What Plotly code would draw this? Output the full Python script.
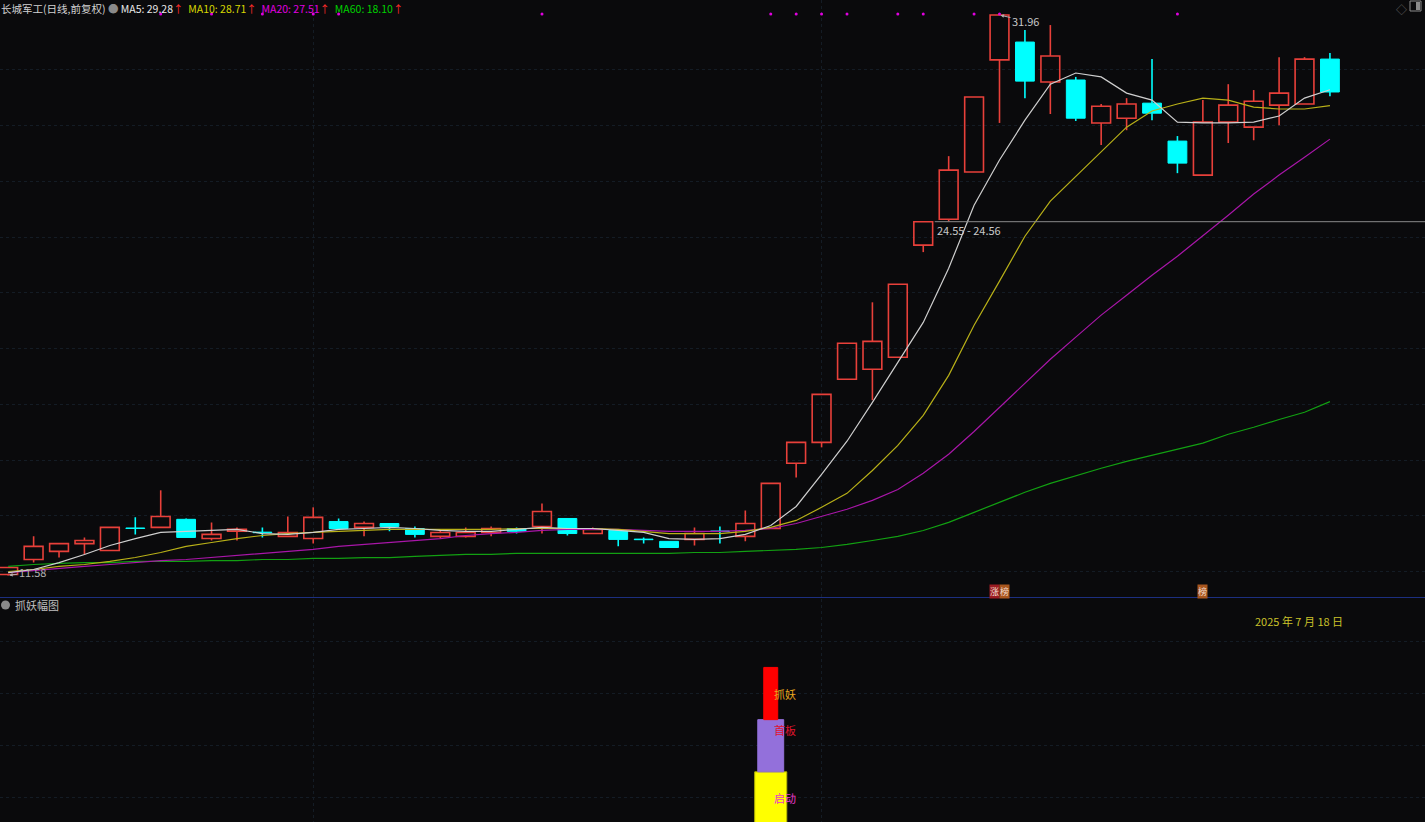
import plotly.graph_objects as go

W, H = 1425, 822
FONT = "Noto Sans CJK SC, Noto Sans, sans-serif"

stock_title = "长城军工(日线,前复权)"
panel_title = "抓妖幅图"
date_label = "2025 年 7 月 18 日"

opens = [11.90, 12.44, 12.73, 13.01, 12.76, 13.57, 13.59, 13.88, 13.19, 13.45,
         13.42, 13.27, 13.19, 13.80, 13.59, 13.73, 13.55, 13.27, 13.27, 13.41,
         13.55, 13.62, 13.91, 13.37, 13.48, 13.17, 13.09, 13.16, 13.46, 13.27,
         13.55, 15.89, 16.64, 18.90, 19.26, 19.69, 23.71, 24.64, 26.33, 30.35,
         30.99, 29.56, 29.63, 28.09, 28.26, 28.80, 27.44, 26.22, 28.12, 27.94,
         28.73, 28.77, 30.38]
closes = [12.15, 12.91, 13.01, 13.12, 13.59, 13.55, 13.98, 13.23, 13.34, 13.52,
          13.40, 13.41, 13.95, 13.55, 13.73, 13.62, 13.34, 13.41, 13.41, 13.55,
          13.45, 14.16, 13.37, 13.52, 13.16, 13.15, 12.87, 13.37, 13.44, 13.73,
          15.17, 16.64, 18.36, 20.19, 20.26, 22.31, 24.55, 26.40, 29.02, 31.96,
          29.59, 30.49, 28.26, 28.69, 28.77, 28.44, 26.65, 28.12, 28.73, 28.87,
          29.16, 30.38, 29.20]
highs = [12.15, 13.27, 13.01, 13.23, 13.59, 13.95, 14.92, 13.91, 13.77, 13.59,
         13.59, 13.98, 14.31, 13.91, 13.80, 13.73, 13.62, 13.52, 13.59, 13.62,
         13.59, 14.45, 13.91, 13.59, 13.48, 13.23, 13.09, 13.59, 13.62, 14.20,
         15.17, 16.64, 18.36, 20.19, 21.66, 22.31, 24.55, 26.90, 29.02, 31.96,
         31.42, 31.60, 29.74, 28.77, 28.98, 30.38, 27.62, 28.91, 29.48, 29.27,
         30.45, 30.45, 30.60]
lows = [11.87, 12.33, 12.51, 12.62, 12.76, 13.34, 13.59, 13.23, 13.12, 13.12,
        13.23, 13.27, 13.01, 13.55, 13.27, 13.45, 13.23, 13.19, 13.23, 13.27,
        13.37, 13.37, 13.30, 13.37, 12.91, 13.01, 12.87, 12.94, 13.01, 13.09,
        13.55, 15.38, 16.46, 18.90, 18.15, 19.69, 23.46, 24.56, 26.33, 28.09,
        28.98, 28.41, 28.16, 27.30, 27.83, 28.19, 26.29, 26.22, 27.37, 27.47,
        28.01, 28.77, 29.05]

ma5 = [11.97, 12.08, 12.33, 12.62, 12.94, 13.19, 13.41, 13.45, 13.48, 13.52,
       13.37, 13.34, 13.41, 13.52, 13.55, 13.59, 13.55, 13.48, 13.45, 13.45,
       13.52, 13.59, 13.55, 13.55, 13.48, 13.41, 13.19, 13.16, 13.19, 13.34,
       13.66, 14.34, 15.49, 16.68, 18.07, 19.51, 20.94, 22.88, 25.14, 26.76,
       28.19, 29.48, 29.88, 29.74, 29.16, 28.91, 28.12, 28.09, 28.09, 28.12,
       28.34, 28.98, 29.28]
ma10 = [12.01, 12.08, 12.19, 12.26, 12.37, 12.51, 12.69, 12.91, 13.05, 13.19,
        13.30, 13.37, 13.41, 13.45, 13.48, 13.52, 13.52, 13.52, 13.52, 13.52,
        13.55, 13.55, 13.55, 13.55, 13.52, 13.45, 13.37, 13.37, 13.37, 13.45,
        13.59, 13.84, 14.31, 14.81, 15.63, 16.53, 17.61, 19.04, 20.84, 22.42,
        24.03, 25.29, 26.18, 27.04, 27.94, 28.52, 28.77, 28.98, 28.91, 28.66,
        28.59, 28.59, 28.71]
ma20 = [11.97, 12.05, 12.12, 12.19, 12.26, 12.33, 12.40, 12.44, 12.51, 12.58,
        12.66, 12.73, 12.80, 12.91, 12.98, 13.05, 13.12, 13.19, 13.30, 13.37,
        13.41, 13.48, 13.52, 13.52, 13.52, 13.48, 13.45, 13.45, 13.45, 13.48,
        13.55, 13.73, 13.98, 14.24, 14.56, 14.95, 15.53, 16.21, 17.03, 17.89,
        18.76, 19.62, 20.41, 21.20, 21.91, 22.63, 23.31, 24.03, 24.78, 25.54,
        26.22, 26.86, 27.51]
ma60 = [12.19, 12.26, 12.30, 12.33, 12.33, 12.37, 12.37, 12.37, 12.40, 12.40,
        12.44, 12.44, 12.48, 12.48, 12.51, 12.51, 12.55, 12.58, 12.62, 12.62,
        12.66, 12.66, 12.66, 12.66, 12.66, 12.66, 12.66, 12.69, 12.69, 12.73,
        12.76, 12.80, 12.87, 12.98, 13.12, 13.27, 13.48, 13.77, 14.13, 14.49,
        14.85, 15.17, 15.45, 15.71, 15.96, 16.17, 16.39, 16.61, 16.93, 17.18,
        17.46, 17.72, 18.10]

signal_idx = [6, 8, 10, 12, 13, 21, 30, 31, 32, 33, 35, 36, 38, 39, 46]
signal_price = 32.0
high_idx, high_label = 39, "31.96"
low_idx, low_label = 0, "11.58"
gap_idx, gap_low, gap_high = 36, 24.55, 24.56
tag_items = [(39, "涨", "#9a1c22"), (39, "榜", "#a8561e"), (47, "榜", "#a8561e")]

sub_idx = 30
sub_names = ["启动", "首板", "抓妖"]
sub_base = [0, 1, 2]
sub_height = [1, 1, 1]

# ---------------------------------------------------------------
RED = "#e8403a"
CYAN = "#00ffff"
BG = "#0a0a0c"
GRID = "#141c25"

n = len(closes)
idx = list(range(n))
up = [c >= o for o, c in zip(opens, closes)]


def wick_segments(want_up):
    xs, ys = [], []
    for i in idx:
        if up[i] != want_up:
            continue
        top = max(opens[i], closes[i])
        bot = min(opens[i], closes[i])
        if highs[i] > top:
            xs += [i, i, None]
            ys += [top, highs[i], None]
        if lows[i] < bot:
            xs += [i, i, None]
            ys += [bot, lows[i], None]
    return xs, ys


fig = go.Figure()

ui = [i for i in idx if up[i]]
di = [i for i in idx if not up[i]]

fig.add_trace(go.Bar(
    x=ui, base=[opens[i] for i in ui], y=[closes[i] - opens[i] for i in ui],
    width=0.74, marker=dict(color="rgba(0,0,0,0)", line=dict(color=RED, width=1.6)),
    xaxis="x", yaxis="y", hoverinfo="skip"))
fig.add_trace(go.Bar(
    x=di, base=[closes[i] for i in di], y=[opens[i] - closes[i] for i in di],
    width=0.74, marker=dict(color=CYAN, line=dict(color=CYAN, width=1)),
    xaxis="x", yaxis="y", hoverinfo="skip"))

wx, wy = wick_segments(True)
fig.add_trace(go.Scatter(x=wx, y=wy, mode="lines", line=dict(color=RED, width=1.6),
                         xaxis="x", yaxis="y", hoverinfo="skip"))
wx, wy = wick_segments(False)
fig.add_trace(go.Scatter(x=wx, y=wy, mode="lines", line=dict(color=CYAN, width=1.6),
                         xaxis="x", yaxis="y", hoverinfo="skip"))

for vals, col in [(ma60, "#12a012"), (ma20, "#a816a8"), (ma10, "#b8b018"), (ma5, "#cfcfcf")]:
    fig.add_trace(go.Scatter(x=idx, y=vals, mode="lines", line=dict(color=col, width=1.2),
                             xaxis="x", yaxis="y", hoverinfo="skip"))

fig.add_trace(go.Scatter(x=signal_idx, y=[signal_price] * len(signal_idx), mode="markers",
                         marker=dict(color="#e000e0", size=3), xaxis="x", yaxis="y",
                         hoverinfo="skip"))

# lower panel bars
sub_colors = ["#ffff00", "#9370db", "#ff0000"]
sub_widths = [1.26, 1.02, 0.55]
sub_lines = ["#b8b800", "#9370db", "#ff0000"]
for k in range(3):
    fig.add_trace(go.Bar(x=[sub_idx], base=[sub_base[k]], y=[sub_height[k]], width=sub_widths[k],
                         marker=dict(color=sub_colors[k], line=dict(color=sub_lines[k], width=1)),
                         xaxis="x2", yaxis="y2", hoverinfo="skip"))

x_range = [-0.3226, 55.74]
main_dom = [1 - 597.5 / H, 1]
sub_dom = [0, 1 - 598.5 / H]

fig.update_layout(
    width=W, height=H, margin=dict(l=0, r=0, t=0, b=0),
    paper_bgcolor=BG, plot_bgcolor=BG, showlegend=False, barmode="overlay",
    font=dict(family=FONT, color="#c8c8c8", size=11),
    xaxis=dict(range=x_range, domain=[0, 1], anchor="y", showticklabels=False,
               tickvals=[12, 32], showgrid=True, gridcolor=GRID, griddash="dot",
               zeroline=False, showline=False, ticks=""),
    yaxis=dict(range=[11.077, 32.498], domain=main_dom, anchor="x", showticklabels=False,
               tickvals=list(range(12, 31, 2)), showgrid=True, gridcolor=GRID, griddash="dot",
               zeroline=False, ticks=""),
    xaxis2=dict(range=x_range, domain=[0, 1], anchor="y2", matches="x", showticklabels=False,
                tickvals=[12, 32], showgrid=True, gridcolor=GRID, griddash="dot",
                zeroline=False, ticks=""),
    yaxis2=dict(range=[0.04, 4.32], domain=sub_dom, anchor="x2", showticklabels=False,
                tickvals=[0.5, 1.5, 2.5, 3.5], showgrid=True, gridcolor=GRID, griddash="dot",
                zeroline=False, ticks=""),
)


def py(y):
    return 1 - y / H


def px(x):
    return x / W


ann = []
# top legend as one rich-text line
arrow = "<span style='color:#ff2a2a'>↑</span>"
legend_parts = [
    (f"MA5: {ma5[-1]:.2f}", "#e8e8e8"),
    (f"MA10: {ma10[-1]:.2f}", "#d6d600"),
    (f"MA20: {ma20[-1]:.2f}", "#e000e0"),
    (f"MA60: {ma60[-1]:.2f}", "#00d000"),
]
legend_text = (f"<span style='color:#d2d2d2'>{stock_title}</span> "
               "<span style='color:#8a8a8a'>●</span> "
               + "  ".join(f"<span style='color:{c}'>{t}</span>{arrow}" for t, c in legend_parts))
ann.append(dict(x=0, y=1, xref="paper", yref="paper", text=legend_text, showarrow=False,
                xanchor="left", yanchor="top", borderpad=0, font=dict(size=10.5)))
ann.append(dict(x=px(1401), y=1, xref="paper", yref="paper", text="◇", showarrow=False,
                xanchor="center", yanchor="top", borderpad=0,
                font=dict(color="#6a6a6a", size=11)))

# high / low labels
ann.append(dict(x=high_idx, y=highs[high_idx], xref="x", yref="y", text=high_label,
                showarrow=True, ax=26, ay=6, arrowhead=2, arrowsize=0.7, arrowwidth=1,
                arrowcolor="#b0b0b0", standoff=1, font=dict(color="#c8c8c8", size=11)))
ann.append(dict(x=low_idx, y=lows[low_idx], xref="x", yref="y", text=low_label,
                showarrow=True, ax=24, ay=-3, arrowhead=2, arrowsize=0.7, arrowwidth=1,
                arrowcolor="#b0b0b0", standoff=1, font=dict(color="#b0b0b0", size=11)))
# gap label
ann.append(dict(x=gap_idx + 0.45, y=gap_low, xref="x", yref="y",
                text=f"{gap_low:.2f} - {gap_high:.2f}", showarrow=False, xanchor="left",
                yanchor="middle", yshift=-8, font=dict(color="#c8c8c8", size=11)))

# tags
seen = {}
for i, t, bg in tag_items:
    k = seen.get(i, 0)
    seen[i] = k + 1
    cnt = sum(1 for j, _, _ in tag_items if j == i)
    shift = (k - (cnt - 1) / 2) * 10.5
    ann.append(dict(x=i, y=py(591), xref="x", yref="paper", text=t, showarrow=False,
                    xshift=shift, xanchor="center", yanchor="middle", bgcolor=bg, borderpad=0,
                    font=dict(color="#f2dccc", size=9)))

# lower panel texts
ann.append(dict(x=px(13), y=py(605), xref="paper", yref="paper", text=panel_title,
                showarrow=False, xanchor="left", yanchor="middle",
                font=dict(color="#c0c0c0", size=11)))
ann.append(dict(x=px(1253), y=py(621), xref="paper", yref="paper", text=date_label,
                showarrow=False, xanchor="left", yanchor="middle",
                font=dict(color="#cbc22a", size=11)))
sub_text_colors = ["#e838c8", "#e0142e", "#eaa81e"]
sub_text_pos = [0.5, 0.8, 0.5]
for k in range(3):
    ann.append(dict(x=sub_idx, y=sub_base[k] + sub_text_pos[k], xref="x2", yref="y2",
                    text=sub_names[k], showarrow=False, xanchor="left", yanchor="middle",
                    xshift=1, font=dict(color=sub_text_colors[k], size=11)))

shapes = [
    # separator between panels
    dict(type="line", xref="paper", yref="paper", x0=0, x1=1, y0=py(597.5), y1=py(597.5),
         line=dict(color="#1c2f80", width=1)),
    # gap line
    dict(type="line", xref="x", yref="y", x0=gap_idx + 0.45, x1=x_range[1], y0=gap_low,
         y1=gap_low, line=dict(color="#8a8a8a", width=1)),
    # lower panel title icon
    dict(type="circle", xref="paper", yref="paper", x0=px(1), x1=px(10), y0=py(609.5),
         y1=py(600.5), fillcolor="#8a8a8a", line=dict(width=0)),
    # top-right icon
    dict(type="rect", xref="paper", yref="paper", x0=px(1410), x1=px(1421), y0=py(11),
         y1=py(1), line=dict(color="#8a8a8a", width=1), fillcolor="rgba(0,0,0,0)"),
    dict(type="rect", xref="paper", yref="paper", x0=px(1416), x1=px(1420), y0=py(10),
         y1=py(2), line=dict(width=0), fillcolor="#8a8a8a"),
]
fig.update_layout(annotations=ann, shapes=shapes)

fig.write_html("out.html", config={"displayModeBar": False},
               post_script="document.body.style.margin='0';document.body.style.overflow='hidden';")
